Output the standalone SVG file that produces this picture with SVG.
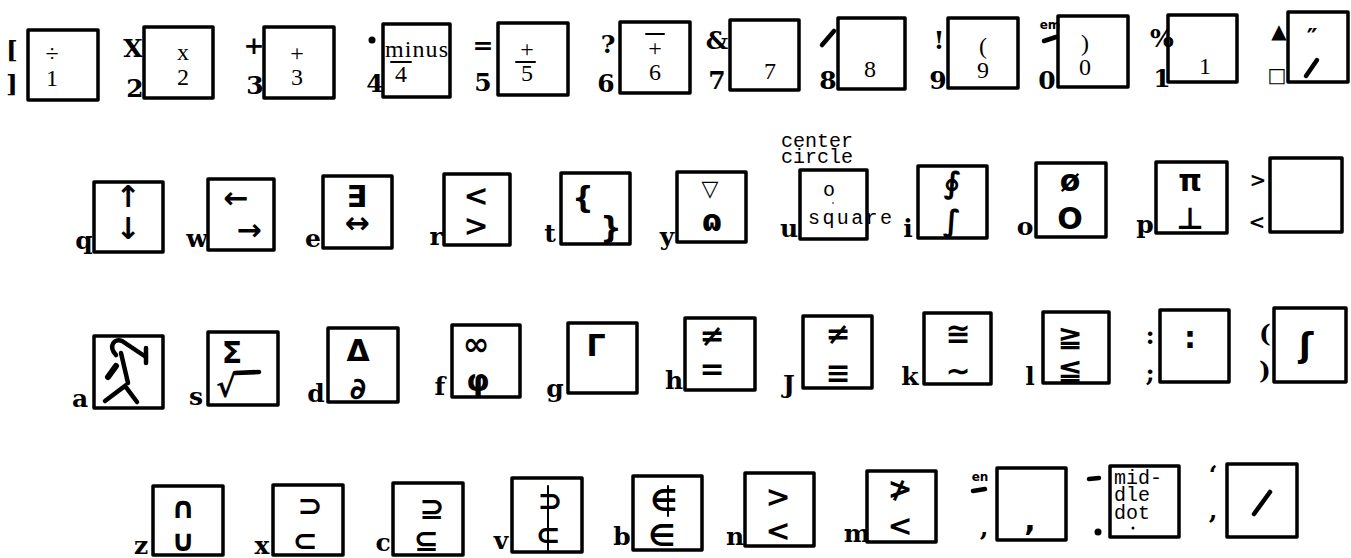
<svg xmlns="http://www.w3.org/2000/svg" width="1351" height="558" viewBox="0 0 1351 558">
<style>
.k{fill:none;stroke:#000;stroke-width:3.5;stroke-linejoin:round}
.ln{stroke:#000;stroke-width:2;fill:none;stroke-linecap:round}
.hv{stroke:#000;stroke-width:4.5;fill:none;stroke-linecap:round}
.lb{font-family:"DejaVu Serif",serif;font-weight:bold;font-size:25px;text-anchor:middle;dominant-baseline:central}
.sm{font-family:"DejaVu Sans",sans-serif;font-weight:bold;font-size:12px;text-anchor:middle}
.in{font-family:"Liberation Serif",serif;font-size:24px;text-anchor:middle}
.sy{font-family:"DejaVu Sans",sans-serif;font-weight:bold;font-size:30px;text-anchor:middle;dominant-baseline:central}
.mo{font-family:"Liberation Mono",monospace;font-size:20px}
</style>
<rect width="1351" height="558" fill="#fff"/>
<!-- Row 1 -->
<g id="key-1"><rect class="k" x="28" y="30" width="70" height="70"/><text class="lb" x="12" y="50">[</text><text class="lb" x="12" y="84">]</text><text class="in" x="52" y="61">÷</text><text class="in" x="52" y="86">1</text></g>
<g id="key-2"><rect class="k" x="144" y="27" width="69" height="71"/><text class="lb" x="133" y="48">X</text><text class="lb" x="135" y="88">2</text><text class="in" x="183" y="60">x</text><text class="in" x="183" y="85">2</text></g>
<g id="key-3"><rect class="k" x="264" y="27" width="70" height="71"/><text class="lb" x="254" y="45">+</text><text class="lb" x="255" y="85">3</text><text class="in" x="297" y="61">+</text><text class="in" x="297" y="85">3</text></g>
<g id="key-4"><rect class="k" x="383" y="24" width="67" height="73"/><circle cx="372" cy="40" r="3.5"/><text class="lb" x="375" y="83">4</text><text class="in" x="385" y="57" textLength="63" style="text-anchor:start">minus</text><line class="ln" x1="391" y1="62" x2="411" y2="62"/><text class="in" x="401" y="82">4</text></g>
<g id="key-5"><rect class="k" x="498" y="23" width="70" height="72"/><text class="lb" x="483" y="45">=</text><text class="lb" x="483" y="82">5</text><text class="in" x="527" y="57">+</text><line class="ln" x1="516" y1="62" x2="535" y2="62"/><text class="in" x="527" y="81">5</text></g>
<g id="key-6"><rect class="k" x="620" y="22" width="70" height="71"/><text class="lb" x="608" y="44">?</text><text class="lb" x="606" y="83">6</text><line class="ln" x1="646" y1="34" x2="664" y2="34"/><text class="in" x="655" y="56">+</text><text class="in" x="655" y="80">6</text></g>
<g id="key-7"><rect class="k" x="730" y="20" width="69" height="70"/><text class="lb" x="717" y="40">&amp;</text><text class="lb" x="717" y="80">7</text><text class="in" x="770" y="79">7</text></g>
<g id="key-8"><rect class="k" x="838" y="18" width="67" height="71"/><line class="hv" x1="822" y1="45" x2="834" y2="31"/><text class="lb" x="828" y="80">8</text><text class="in" x="870" y="77">8</text></g>
<g id="key-9"><rect class="k" x="948" y="18" width="70" height="70"/><text class="lb" x="939" y="40">!</text><text class="lb" x="938" y="80">9</text><text class="in" x="983" y="54">(</text><text class="in" x="983" y="78">9</text></g>
<g id="key-0"><rect class="k" x="1058" y="16" width="70" height="71"/><text class="sm" x="1050" y="29">em</text><line class="hv" x1="1044" y1="41" x2="1056" y2="37"/><text class="lb" x="1047" y="80">0</text><text class="in" x="1085" y="51">)</text><text class="in" x="1085" y="75">0</text></g>
<g id="key-minus"><rect class="k" x="1168" y="15" width="69" height="67"/><text class="lb" x="1162" y="38">%</text><text class="lb" x="1162" y="78">1</text><text class="in" x="1205" y="74">1</text></g>
<g id="key-equals"><rect class="k" x="1288" y="12" width="60" height="70"/><text class="sy" x="1279" y="31" style="font-size:20px">▲</text><text class="sy" x="1277" y="75" style="font-size:20px">□</text><text class="sy" x="1312" y="38" style="font-size:24px">″</text><line class="hv" x1="1306" y1="76" x2="1317" y2="60"/></g>
<!-- Row 2 -->
<g id="key-q"><rect class="k" x="94" y="182" width="69" height="70"/><text class="lb" x="84" y="240">q</text><text class="sy" x="128" y="196">↑</text><text class="sy" x="128" y="228">↓</text></g>
<g id="key-w"><rect class="k" x="208" y="179" width="66" height="71"/><text class="lb" x="197" y="238">w</text><text class="sy" x="236" y="197">←</text><text class="sy" x="249" y="229">→</text></g>
<g id="key-e"><rect class="k" x="323" y="176" width="69" height="72"/><text class="lb" x="313" y="238">e</text><text class="sy" x="357" y="196">∃</text><text class="sy" x="357" y="222">↔</text></g>
<g id="key-r"><rect class="k" x="444" y="174" width="66" height="71"/><text class="lb" x="436" y="236">r</text><text class="sy" x="476" y="195">&lt;</text><text class="sy" x="476" y="225">&gt;</text></g>
<g id="key-t"><rect class="k" x="561" y="173" width="69" height="71"/><text class="lb" x="550" y="233">t</text><text class="sy" x="583" y="197">{</text><text class="sy" x="611" y="227">}</text></g>
<g id="key-y"><rect class="k" x="677" y="172" width="69" height="70"/><text class="lb" x="667" y="236">y</text><text class="sy" x="710" y="188" style="font-size:22px">▽</text><text class="sy" x="712" y="220">ɷ</text></g>
<g id="key-u"><rect class="k" x="800" y="170" width="67" height="69"/><text class="lb" x="789" y="228">u</text><text class="mo" x="781" y="147">center</text><text class="mo" x="781" y="163">circle</text><text class="mo" x="829" y="196" text-anchor="middle">o</text><circle cx="833" cy="203" r="0.8"/><text class="mo" x="808" y="224" textLength="84">square</text></g>
<g id="key-i"><rect class="k" x="918" y="166" width="69" height="72"/><text class="lb" x="908" y="228">i</text><text class="sy" x="952" y="182">∮</text><text class="sy" x="952" y="220">∫</text></g>
<g id="key-o"><rect class="k" x="1036" y="163" width="70" height="74"/><text class="lb" x="1025" y="226">o</text><text class="sy" x="1070" y="180">ø</text><text class="sy" x="1070" y="218">O</text></g>
<g id="key-p"><rect class="k" x="1156" y="162" width="71" height="71"/><text class="lb" x="1145" y="224">p</text><text class="sy" x="1190" y="180">π</text><text class="sy" x="1190" y="218">⊥</text></g>
<g id="key-bracket"><rect class="k" x="1270" y="158" width="72" height="74"/><text class="lb" x="1258" y="180" style="font-size:20px">&gt;</text><text class="lb" x="1257" y="222" style="font-size:20px">&lt;</text></g>
<!-- Row 3 -->
<g id="key-a"><rect class="k" x="94" y="336" width="69" height="72"/><text class="lb" x="80" y="398">a</text><path class="hv" d="M116,355 C108,346 114,338 122,341 L146,357"/><line class="hv" x1="146" y1="348" x2="146" y2="363"/><line class="hv" x1="108" y1="377" x2="116" y2="366" style="stroke-width:6"/><path class="hv" d="M121,353 L128,383"/><path class="hv" d="M105,401 L125,386 L137,402"/></g>
<g id="key-s"><rect class="k" x="208" y="332" width="70" height="73"/><text class="lb" x="196" y="396">s</text><text class="sy" x="232" y="352">Σ</text><text class="sy" x="226" y="386">√</text><line class="hv" x1="235" y1="373" x2="259" y2="372"/></g>
<g id="key-d"><rect class="k" x="328" y="328" width="70" height="74"/><text class="lb" x="316" y="393">d</text><text class="sy" x="358" y="350">Δ</text><text class="sy" x="358" y="388">∂</text></g>
<g id="key-f"><rect class="k" x="452" y="325" width="68" height="72"/><text class="lb" x="440" y="386">f</text><text class="sy" x="476" y="344" style="font-size:32px">∞</text><text class="sy" x="478" y="380">φ</text></g>
<g id="key-g"><rect class="k" x="568" y="323" width="69" height="70"/><text class="lb" x="555" y="388">g</text><text class="sy" x="596" y="345">Γ</text></g>
<g id="key-h"><rect class="k" x="685" y="318" width="70" height="72"/><text class="lb" x="674" y="380">h</text><text class="sy" x="712" y="335">≠</text><text class="sy" x="712" y="368">=</text></g>
<g id="key-j"><rect class="k" x="803" y="316" width="69" height="72"/><text class="lb" x="789" y="384">J</text><text class="sy" x="838" y="333">≠</text><text class="sy" x="838" y="372">≡</text></g>
<g id="key-k"><rect class="k" x="924" y="313" width="67" height="71"/><text class="lb" x="910" y="376">k</text><text class="sy" x="958" y="333">≅</text><text class="sy" x="958" y="370">∼</text></g>
<g id="key-l"><rect class="k" x="1043" y="312" width="66" height="71"/><text class="lb" x="1030" y="376">l</text><text class="sy" x="1070" y="335">≧</text><text class="sy" x="1070" y="368">≦</text></g>
<g id="key-semicolon"><rect class="k" x="1160" y="310" width="69" height="72"/><text class="lb" x="1150" y="335">:</text><text class="lb" x="1150" y="372">;</text><text class="sy" x="1190" y="337">:</text></g>
<g id="key-quote"><rect class="k" x="1274" y="308" width="72" height="74"/><text class="lb" x="1265" y="333">(</text><text class="lb" x="1265" y="370">)</text><text class="sy" x="1306" y="345" style="font-size:34px">ʃ</text></g>
<!-- Row 4 -->
<g id="key-z"><rect class="k" x="153" y="486" width="70" height="69"/><text class="lb" x="141" y="545">z</text><text class="sy" x="183" y="507">∩</text><text class="sy" x="183" y="540">∪</text></g>
<g id="key-x"><rect class="k" x="273" y="485" width="70" height="70"/><text class="lb" x="262" y="545">x</text><text class="sy" x="310" y="505">⊃</text><text class="sy" x="305" y="540">⊂</text></g>
<g id="key-c"><rect class="k" x="393" y="483" width="70" height="72"/><text class="lb" x="383" y="542">c</text><text class="sy" x="432" y="508">⊇</text><text class="sy" x="426" y="540">⊆</text></g>
<g id="key-v"><rect class="k" x="512" y="478" width="70" height="74"/><text class="lb" x="501" y="540">v</text><text class="sy" x="550" y="500">⊃</text><text class="sy" x="548" y="534">⊂</text><line class="ln" x1="548" y1="486" x2="548" y2="550"/></g>
<g id="key-b"><rect class="k" x="633" y="476" width="69" height="74"/><text class="lb" x="622" y="536">b</text><text class="sy" x="664" y="500">∈</text><line class="ln" x1="668" y1="486" x2="668" y2="516"/><text class="sy" x="662" y="535">∈</text></g>
<g id="key-n"><rect class="k" x="745" y="473" width="69" height="73"/><text class="lb" x="735" y="536">n</text><text class="sy" x="778" y="496">&gt;</text><text class="sy" x="778" y="530">&lt;</text></g>
<g id="key-m"><rect class="k" x="867" y="471" width="69" height="71"/><text class="lb" x="857" y="533">m</text><text class="sy" x="900" y="488">≯</text><text class="sy" x="900" y="525">&lt;</text></g>
<g id="key-comma"><rect class="k" x="997" y="468" width="69" height="72"/><text class="sm" x="980" y="481">en</text><line class="hv" x1="973" y1="491" x2="985" y2="489"/><text class="lb" x="984" y="527">,</text><text class="sy" x="1030" y="520">,</text></g>
<g id="key-period"><rect class="k" x="1110" y="466" width="69" height="71"/><line class="hv" x1="1089" y1="479" x2="1099" y2="478"/><circle cx="1098" cy="532" r="3.5"/><text class="mo" x="1114" y="484">mid-</text><text class="mo" x="1114" y="501">dle</text><text class="mo" x="1114" y="519">dot</text><circle cx="1133" cy="528" r="1.5"/></g>
<g id="key-slash"><rect class="k" x="1227" y="464" width="70" height="73"/><text class="lb" x="1213" y="474">‘</text><text class="lb" x="1213" y="510">,</text><line class="hv" x1="1254" y1="514" x2="1270" y2="492"/></g>
<g id="connectors"></g>
</svg>
